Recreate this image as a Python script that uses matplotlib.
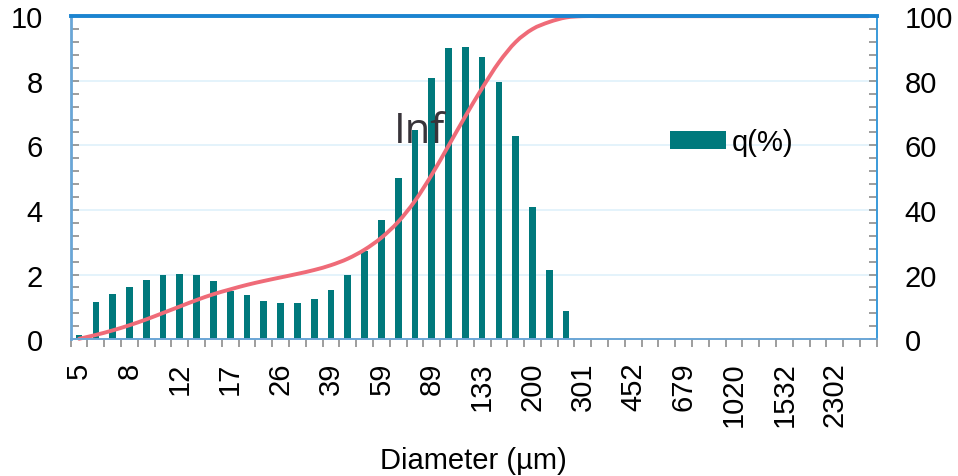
import numpy as np
import matplotlib
matplotlib.use("Agg")
from matplotlib import pyplot as plt
from matplotlib.path import Path
from matplotlib.patches import PathPatch

plt.rcParams['font.family'] = ['Liberation Sans', 'DejaVu Sans']

# size classes (µm), only every third one gets a label
labels = ["5", "8", "12", "17", "26", "39", "59", "89", "133", "200",
          "301", "452", "679", "1020", "1532", "2302"]
n_cat = 48

# q(%) per class
q = [0.12, 1.16, 1.40, 1.61, 1.83, 1.97, 2.03, 1.97, 1.81, 1.50,
     1.36, 1.19, 1.11, 1.11, 1.24, 1.51, 2.00, 2.73, 3.70, 4.98,
     6.49, 8.07, 9.02, 9.05, 8.75, 7.96, 6.28, 4.09, 2.13, 0.86] + [0] * 18

# cumulative (%)
cum = [0.1, 1.3, 2.7, 4.3, 6.1, 8.1, 10.1, 12.1, 13.9, 15.4,
       16.8, 18.0, 19.1, 20.2, 21.4, 22.9, 24.9, 27.7, 31.4, 36.3,
       42.8, 50.9, 59.9, 69.0, 77.7, 85.7, 92.0, 96.0, 98.2, 99.6] + [100] * 18

x = np.arange(n_cat)

fig = plt.figure(figsize=(9.58, 4.77), dpi=100)
ax = fig.add_axes([0.0738, 0.287, 0.8414, 0.677])
ax2 = ax.twinx()

bars = ax.bar(x, q, width=0.4, color="#00797c", label="q(%)", zorder=3)

# smoothed line like excel: bezier segments through the points
pts = np.column_stack([x, cum]).astype(float)
verts = [pts[0]]
codes = [Path.MOVETO]
for i in range(len(pts) - 1):
    p_prev = pts[i - 1] if i > 0 else pts[i]
    p_next2 = pts[i + 2] if i + 2 < len(pts) else pts[i + 1]
    c1 = pts[i] + (pts[i + 1] - p_prev) / 6
    c2 = pts[i + 1] - (p_next2 - pts[i]) / 6
    verts += [c1, c2, pts[i + 1]]
    codes += [Path.CURVE4] * 3
ax2.add_patch(PathPatch(Path(verts, codes), fill=False, edgecolor="#ef6b78",
                        lw=2.8, capstyle="round", clip_on=False))

ax.set_xlim(-0.5, n_cat - 0.5)
ax.set_ylim(0, 10)
ax2.set_ylim(0, 100)

# gridlines
for g in [2, 4, 6, 8]:
    ax.axhline(g, color="#dff1fb", lw=1.2, zorder=0)

# y ticks
ax.set_yticks(range(0, 11, 2))
ax.set_yticks(np.arange(0, 10.01, 0.4), minor=True)
ax2.set_yticks(range(0, 101, 20))
ax2.set_yticks(np.arange(0, 100.1, 4), minor=True)
for a in (ax, ax2):
    a.tick_params(axis="y", which="both", direction="in", length=5.5,
                  width=1.2, color="#8c8c8c", labelsize=21, pad=20)

# x ticks: marks between classes, labels every 3rd class
ax.set_xticks(np.arange(-0.5, n_cat, 1.0), minor=True)
ax.set_xticks(np.arange(0, n_cat, 3))
ax.set_xticklabels(labels, rotation=90, fontsize=21)
ax.tick_params(axis="x", which="minor", direction="out", length=6,
               width=1.2, color="#8c8c8c")
ax.tick_params(axis="x", which="major", length=0, pad=16)

ax.set_xlabel("Diameter (µm)", fontsize=21, labelpad=14)

for s in ax.spines.values():
    s.set_visible(False)
ax2.spines["top"].set_color("#1b84d0")
ax2.spines["top"].set_linewidth(2.8)
ax2.spines["left"].set_color("#6aa6d6")
ax2.spines["left"].set_linewidth(2.0)
ax2.spines["right"].set_color("#3a9ad9")
ax2.spines["right"].set_linewidth(1.4)
ax2.spines["bottom"].set_color("#6aa6d6")
ax2.spines["bottom"].set_linewidth(1.4)

ax2.text(0.401, 0.61, "Inf", transform=ax2.transAxes, fontsize=30,
         color="#38343a", family="Open Sans", ha="left", va="baseline")

ax2.legend([bars], ["q(%)"], loc="center left", bbox_to_anchor=(0.744, 0.61),
           frameon=False, fontsize=21, handlelength=1.9, handleheight=0.6,
           handletextpad=0.2, borderaxespad=0, borderpad=0)

plt.savefig("out.png", dpi=100)
